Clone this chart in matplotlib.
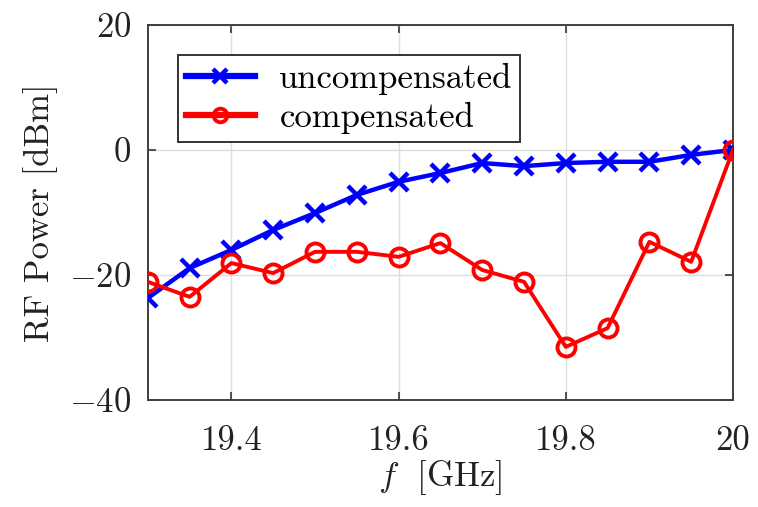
import matplotlib
matplotlib.use('Agg')
import matplotlib.pyplot as plt
import numpy as np

plt.rcParams['font.family'] = 'serif'
plt.rcParams['font.serif'] = ['cmr10', 'DejaVu Serif']
plt.rcParams['mathtext.fontset'] = 'cm'
plt.rcParams['axes.formatter.use_mathtext'] = True

### Data
freq = [19.30, 19.35, 19.40, 19.45, 19.50, 19.55, 19.60, 19.65,
        19.70, 19.75, 19.80, 19.85, 19.90, 19.95, 20.00]
uncompensated = [-23.7, -18.9, -16.0, -12.8, -10.1, -7.2, -5.1, -3.7,
                 -2.1, -2.6, -2.1, -1.9, -1.9, -0.8, 0.0]
compensated = [-21.1, -23.5, -18.1, -19.7, -16.3, -16.3, -17.1, -14.9,
               -19.2, -21.1, -31.5, -28.5, -14.7, -17.9, 0.0]
x_ticks = [19.4, 19.6, 19.8, 20.0]
x_tick_labels = ['19.4', '19.6', '19.8', '20']
y_ticks = [-40, -20, 0, 20]

fig = plt.figure(figsize=(7.58, 5.07), dpi=100)
ax = fig.add_axes([0.195, 0.211, 0.772, 0.740])

ax.plot(freq, uncompensated, color='#0000ff', linewidth=3.2, marker='x',
        markersize=13, markeredgewidth=3.2, label='uncompensated', zorder=3)
ax.plot(freq, compensated, color='#ff0000', linewidth=2.8, marker='o',
        markersize=13, markeredgewidth=2.8, markerfacecolor='none',
        label='compensated', zorder=4)

ax.set_xlim(19.3, 20.0)
ax.set_ylim(-40, 20)
ax.set_xticks(x_ticks)
ax.set_xticklabels(x_tick_labels)
ax.set_yticks(y_ticks)
ax.set_yticklabels([r'$-40$', r'$-20$', r'$0$', r'$20$'])

ax.grid(True, color='#dddddd', linewidth=1.0)
ax.set_axisbelow(True)
ax.tick_params(direction='in', top=True, right=True, length=6, width=1.2,
               colors='#333333', labelsize=25, labelcolor='#222222')
ax.tick_params(axis='x', pad=18)
ax.tick_params(axis='y', pad=12)
for sp in ax.spines.values():
    sp.set_color('#404040')
    sp.set_linewidth(1.4)

ax.set_xlabel(r'$f\ $ [GHz]', fontsize=25, color='#222222', labelpad=1)
ax.set_ylabel('RF Power [dBm]', fontsize=25, color='#222222', labelpad=8)

leg = ax.legend(loc='upper left', bbox_to_anchor=(178 / 758, 1 - 55 / 507),
                bbox_transform=fig.transFigure, fontsize=25, frameon=True,
                fancybox=False, edgecolor='#333333', framealpha=1.0,
                borderaxespad=0, borderpad=0.22, labelspacing=0.2,
                handlelength=2.0, handletextpad=0.7, markerscale=0.75)
leg.get_frame().set_linewidth(1.4)
for line in leg.get_lines():
    line.set_linewidth(4.5)

plt.savefig('out.png', dpi=100)
